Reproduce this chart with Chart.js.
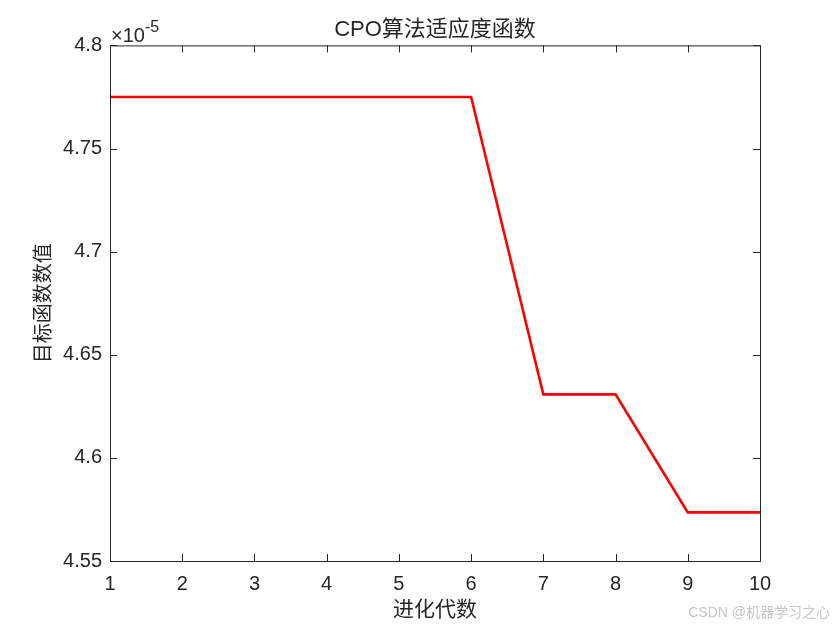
<!DOCTYPE html>
<html lang="zh">
<head>
  <meta charset="utf-8" />
  <title>CPO算法适应度函数</title>
  <style>
    html, body { margin: 0; padding: 0; background: #ffffff; }
    #wrap { width: 840px; height: 630px; }
  </style>
</head>
<body>
  <div id="wrap"><canvas id="chart" width="840" height="630"></canvas></div>

  <script src="https://cdn.jsdelivr.net/npm/chart.js"></script>
  <script>
    // values are shown in units of 1e-5 (see the x10^-5 label)
    const generations = [1, 2, 3, 4, 5, 6, 7, 8, 9, 10];
    const fitness = [4.775, 4.775, 4.775, 4.775, 4.775, 4.775, 4.6308, 4.6308, 4.5736, 4.5736];
    const xTicks = [1, 2, 3, 4, 5, 6, 7, 8, 9, 10];
    const yTicks = [4.55, 4.6, 4.65, 4.7, 4.75, 4.8];

    const ink = '#262626';
    const latin = "'Liberation Sans', Arial, 'Noto Sans CJK SC', sans-serif";
    const cjk = "'Liberation Sans', 'Noto Sans CJK SC', sans-serif";

    // MATLAB-like box with inward ticks, exponent label and watermark
    const matlabBox = {
      id: 'matlabBox',
      afterDraw(chart) {
        const { ctx, chartArea: a, scales } = chart;
        const len = 7;
        ctx.save();
        ctx.strokeStyle = ink;
        ctx.lineWidth = 1;
        ctx.strokeRect(a.left + 0.5, a.top + 0.5, a.right - a.left, a.bottom - a.top);
        ctx.beginPath();
        for (const v of xTicks) {
          const px = Math.round(scales.x.getPixelForValue(v)) + 0.5;
          ctx.moveTo(px, a.bottom); ctx.lineTo(px, a.bottom - len);
          ctx.moveTo(px, a.top); ctx.lineTo(px, a.top + len);
        }
        for (const v of yTicks) {
          const py = Math.round(scales.y.getPixelForValue(v)) + 0.5;
          ctx.moveTo(a.left, py); ctx.lineTo(a.left + len, py);
          ctx.moveTo(a.right, py); ctx.lineTo(a.right - len, py);
        }
        ctx.stroke();

        // exponent
        ctx.fillStyle = ink;
        ctx.textBaseline = 'alphabetic';
        ctx.font = "20px " + latin;
        ctx.fillText('\u00d710', a.left + 1, a.top - 3);
        const w = ctx.measureText('\u00d710').width;
        ctx.font = "16px " + latin;
        ctx.fillText('-5', a.left + 1 + w, a.top - 13);

        // watermark
        ctx.fillStyle = '#c6c6c6';
        ctx.font = "14px " + cjk;
        ctx.textAlign = 'right';
        ctx.fillText('CSDN @机器学习之心', 830, 617);
        ctx.restore();
      }
    };

    new Chart(document.getElementById('chart'), {
      type: 'line',
      data: {
        labels: generations,
        datasets: [{
          data: generations.map((g, i) => ({ x: g, y: fitness[i] })),
          borderColor: '#ff0000',
          borderWidth: 2.6,
          pointRadius: 0,
          tension: 0,
          fill: false
        }]
      },
      options: {
        responsive: false,
        animation: false,
        layout: { padding: { top: 0, right: 80, bottom: 0, left: 0 } },
        plugins: {
          legend: { display: false },
          tooltip: { enabled: false },
          title: {
            display: true,
            fullSize: false,
            text: 'CPO算法适应度函数',
            color: ink,
            font: { family: cjk, size: 22, weight: 'normal' },
            padding: { top: 17, bottom: 2 }
          }
        },
        scales: {
          x: {
            type: 'linear',
            min: 1,
            max: 10,
            afterBuildTicks: s => { s.ticks = xTicks.map(v => ({ value: v })); },
            afterFit: s => { s.height = 69; },
            ticks: { color: ink, font: { family: latin, size: 20 }, padding: 11, maxRotation: 0 },
            grid: { display: false, drawTicks: false },
            border: { display: false },
            title: {
              display: true,
              text: '进化代数',
              color: ink,
              font: { family: cjk, size: 21 },
              padding: { top: 7, bottom: 7 }
            }
          },
          y: {
            min: 4.55,
            max: 4.8,
            afterBuildTicks: s => { s.ticks = yTicks.map(v => ({ value: v })); },
            afterFit: s => { s.width = 110; },
            ticks: {
              color: ink,
              font: { family: latin, size: 20 },
              padding: 8,
              callback: v => String(+v.toFixed(2))
            },
            grid: { display: false, drawTicks: false },
            border: { display: false },
            title: {
              display: true,
              text: '目标函数数值',
              color: ink,
              font: { family: cjk, size: 20 },
              padding: { top: 32, bottom: 32 }
            }
          }
        }
      },
      plugins: [matlabBox]
    });
  </script>
</body>
</html>
